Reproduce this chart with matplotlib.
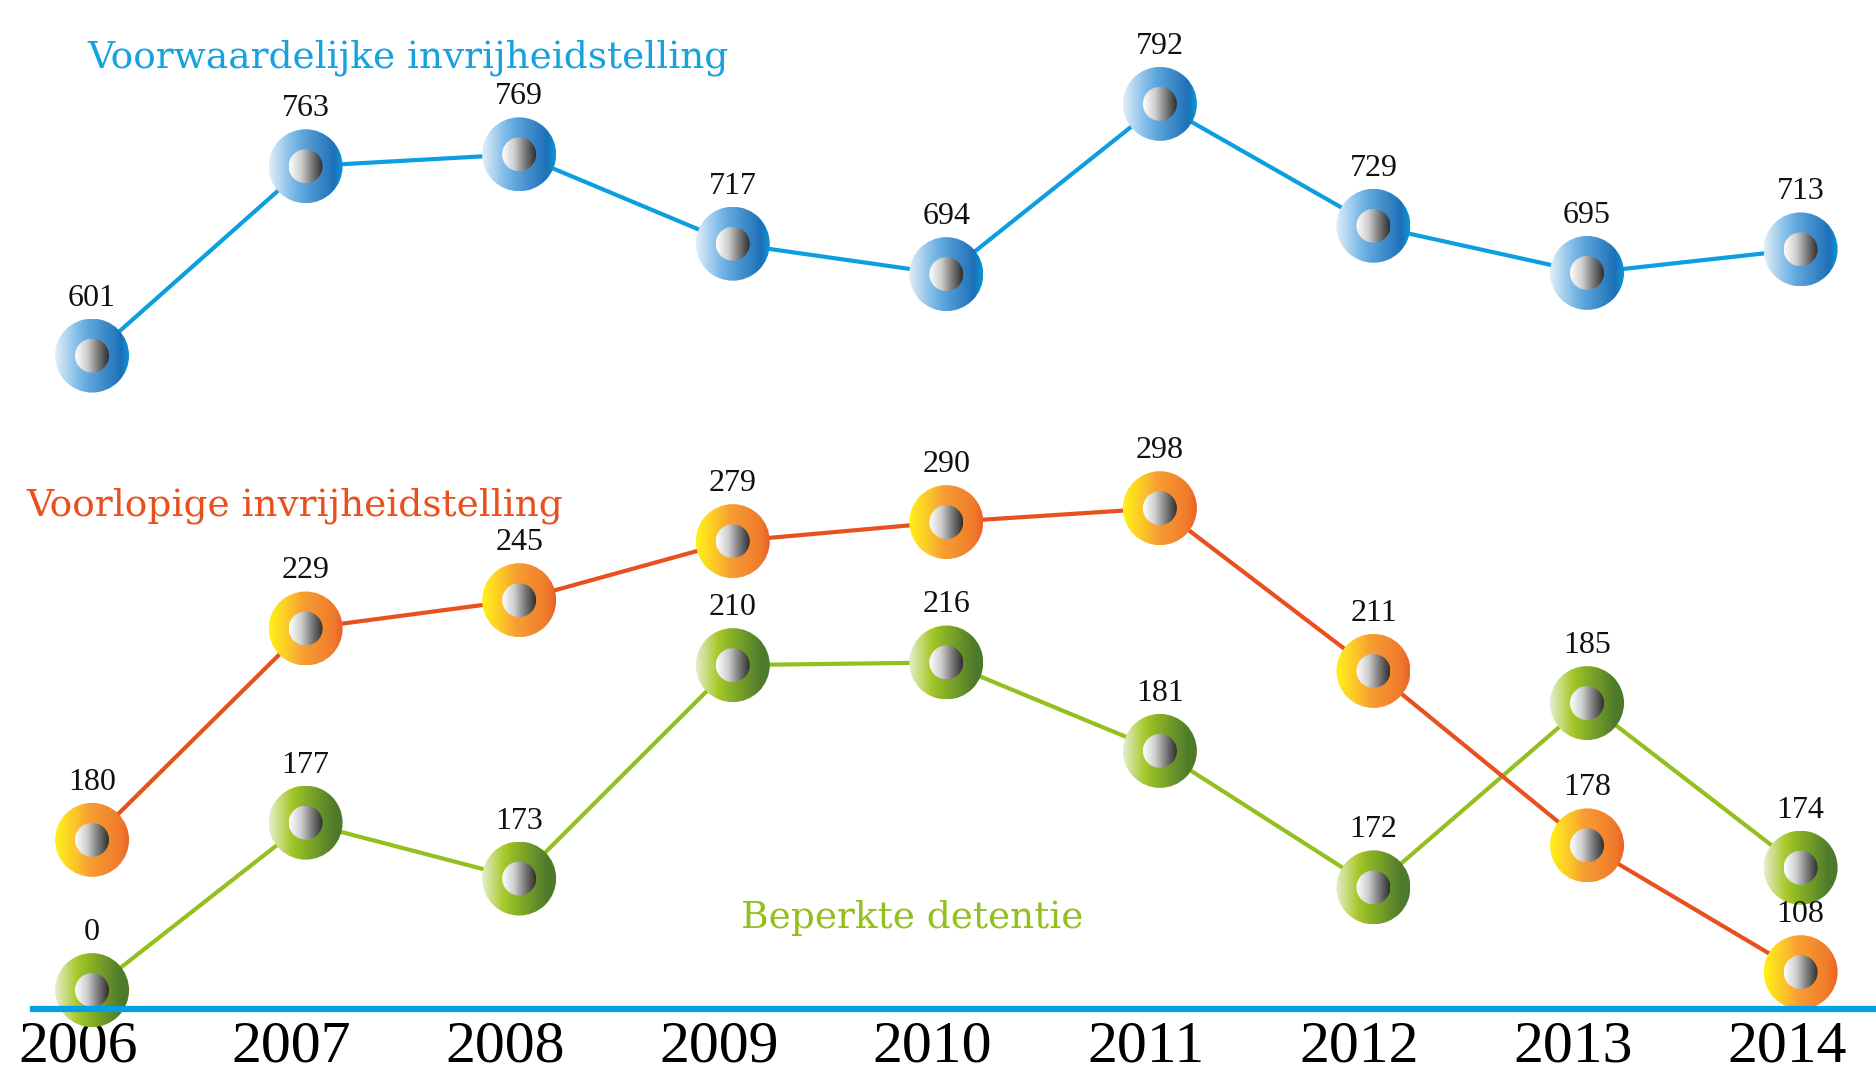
import numpy as np
import matplotlib.pyplot as plt
from matplotlib.colors import LinearSegmentedColormap
from matplotlib.patches import Circle
from matplotlib.lines import Line2D

years = [2006, 2007, 2008, 2009, 2010, 2011, 2012, 2013, 2014]
voorwaardelijk = [601, 763, 769, 717, 694, 792, 729, 695, 713]
voorlopig = [180, 229, 245, 279, 290, 298, 211, 178, 108]
beperkt = [0, 177, 173, 210, 216, 181, 172, 185, 174]

titles = ["Voorwaardelijke invrijheidstelling", "Voorlopige invrijheidstelling", "Beperkte detentie"]

W, H = 1876, 1075
fig = plt.figure(figsize=(W / 100, H / 100), dpi=100)


def sig(x):
    return 1 / (1 + np.exp(-x))


# the infographic is not drawn to one scale, so every series gets its own
# (non-linear) vertical scale; the output is a height in "canvas units" 0..899
def scale_green(v):
    v = np.asarray(v, dtype=float)
    return 71 + 0.3685 * v + 194.4 * sig((v - 178.5) / 3.2)


def scale_orange(v):
    v = np.asarray(v, dtype=float)
    return 86 + 1.45 * (v - 108) + 112.5 * sig((v - 197) / 6)


def scale_blue(v):
    u = np.asarray(v, dtype=float) / 700
    return 551.95 + 124.03 * np.sign(u) * np.abs(u) ** 6


def inverse_of(fwd, lo, hi):
    grid = np.linspace(lo, hi, 40001)
    fg = fwd(grid)
    return lambda y: np.interp(np.asarray(y, dtype=float), fg, grid)


series = [
    dict(values=beperkt, fwd=scale_green, rng=(-3000, 4000), color="#93c01f",
         ring=["#e6eecb", "#a6c82a", "#8cb526", "#4f7a2b", "#4c7b2a"]),
    dict(values=voorlopig, fwd=scale_orange, rng=(-1000, 1500), color="#e9501d",
         ring=["#fff21a", "#fbc02a", "#f7a032", "#f07a2c", "#ec5f27"]),
    dict(values=voorwaardelijk, fwd=scale_blue, rng=(-1500, 1500), color="#0b9fdf",
         ring=["#e2eef8", "#82bde8", "#5fa6dc", "#1d70b8", "#0a98d8"]),
]
xlim = (2005.569, 2014.353)

axes = []
for s in series:
    inv = inverse_of(s["fwd"], *s["rng"])
    ax = fig.add_axes([0, 0, 1, 1])
    ax.set_yscale("function", functions=(s["fwd"], inv))
    ax.set_xlim(*xlim)
    ax.set_ylim(float(inv(0)), float(inv(899)))
    ax.axis("off")
    ax.plot(years, s["values"], color=s["color"], linewidth=3, solid_capstyle="round")
    axes.append(ax)

# overlay in pixel units for the round gradient markers and their labels
ov = fig.add_axes([0, 0, 1, 1])
ov.set_xlim(0, W)
ov.set_ylim(0, H)
ov.set_autoscale_on(False)
ov.axis("off")

grad = np.linspace(0, 1, 256).reshape(1, -1)
ball_cmap = LinearSegmentedColormap.from_list(
    "ball", [(0, "#ffffff"), (0.35, "#d0d0d0"), (0.75, "#6a6a6a"), (1, "#2e2e2e")])

R_OUT, R_IN = 37, 17
for ax, s in zip(axes, series):
    ring_cmap = LinearSegmentedColormap.from_list(
        "ring", list(zip([0, 0.3, 0.45, 0.88, 1], s["ring"])))
    for x, v in zip(years, s["values"]):
        cx, cy = ov.transData.inverted().transform(ax.transData.transform((x, v)))
        for r, cmap in ((R_OUT, ring_cmap), (R_IN, ball_cmap)):
            circ = Circle((cx, cy), r, facecolor="none", edgecolor="none")
            ov.add_patch(circ)
            im = ov.imshow(grad, cmap=cmap, extent=[cx - r, cx + r, cy - r, cy + r],
                           aspect="auto", interpolation="bilinear", zorder=5)
            im.set_clip_path(circ)
        ov.text(cx, cy + 50, str(v), ha="center", va="baseline", fontsize=23,
                family="Liberation Serif", color="#111111", zorder=10)

# blue baseline
fig.add_artist(Line2D([33 / W, 1], [1 - 1009 / H] * 2, color="#00a0e3", linewidth=4.5, zorder=1))

# year labels
for x in years:
    axes[0].annotate(str(x), (x, 0), xycoords=("data", "figure fraction"),
                     xytext=(-14, 14), textcoords="offset pixels",
                     ha="center", va="baseline", fontsize=43,
                     family="Liberation Serif", color="black")

fig.text(87 / W, 1 - 68 / H, titles[0], color="#16a2df", fontsize=27,
         family="DejaVu Serif", ha="left", va="baseline")
fig.text(26 / W, 1 - 515 / H, titles[1], color="#e9501d", fontsize=27,
         family="DejaVu Serif", ha="left", va="baseline")
fig.text(741 / W, 1 - 928 / H, titles[2], color="#93c01f", fontsize=27,
         family="DejaVu Serif", ha="left", va="baseline")

fig.savefig("out.png", dpi=100)
